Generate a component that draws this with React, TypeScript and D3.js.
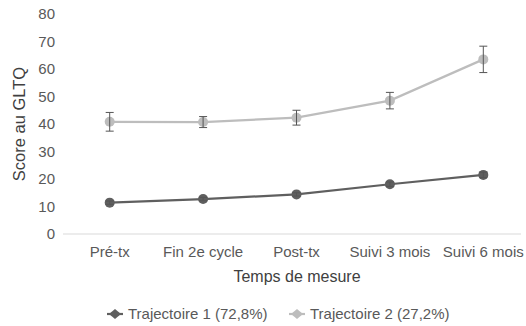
import React, { useRef, useEffect } from 'react';
import * as d3 from 'd3';

// Measurement times
const categories = ['Pré-tx', 'Fin 2e cycle', 'Post-tx', 'Suivi 3 mois', 'Suivi 6 mois'];
// Trajectoire 1 (72,8%)
const traj1Values = [11.4, 12.7, 14.4, 18.1, 21.5];
const traj1Errors = [0.6, 0.6, 0.6, 0.8, 1.0];
// Trajectoire 2 (27,2%)
const traj2Values = [40.8, 40.7, 42.3, 48.5, 63.5];
const traj2Errors = [3.4, 2.0, 2.7, 3.0, 4.8];
const yTicks = [0, 10, 20, 30, 40, 50, 60, 70, 80];
const seriesNames = ['Trajectoire 1 (72,8%)', 'Trajectoire 2 (27,2%)'];

const WIDTH = 526;
const HEIGHT = 326;

const App = () => {
  const svgRef = useRef<SVGSVGElement | null>(null);

  useEffect(() => {
    if (!svgRef.current) return;
    const svg = d3.select(svgRef.current);
    svg.selectAll('*').remove();

    const font = '"Liberation Sans", Arial, sans-serif';

    const x = d3.scaleBand().domain(categories).range([63, 530]);
    const y = d3.scaleLinear().domain([0, 80]).range([234, 14]);
    const cx = (c: string) => (x(c) as number) + x.bandwidth() / 2;

    // x axis line
    svg.append('line')
      .attr('x1', 63).attr('x2', 521)
      .attr('y1', y(0)).attr('y2', y(0))
      .attr('stroke', '#d9d9d9').attr('stroke-width', 1);

    // y tick labels
    svg.selectAll('.ytick')
      .data(yTicks)
      .enter()
      .append('text')
      .attr('x', 55)
      .attr('y', d => y(d))
      .attr('dy', '0.35em')
      .attr('text-anchor', 'end')
      .attr('font-family', font)
      .attr('font-size', '15px')
      .attr('fill', '#595959')
      .text(d => d);

    // x tick labels
    svg.selectAll('.xtick')
      .data(categories)
      .enter()
      .append('text')
      .attr('x', d => cx(d))
      .attr('y', 257)
      .attr('text-anchor', 'middle')
      .attr('font-family', font)
      .attr('font-size', '15px')
      .attr('fill', '#595959')
      .text(d => d);

    // axis titles
    svg.append('text')
      .attr('transform', 'translate(25,124) rotate(-90)')
      .attr('text-anchor', 'middle')
      .attr('font-family', font)
      .attr('font-size', '16.5px')
      .attr('fill', '#404040')
      .text('Score au GLTQ');

    svg.append('text')
      .attr('x', 297)
      .attr('y', 282)
      .attr('text-anchor', 'middle')
      .attr('font-family', font)
      .attr('font-size', '16px')
      .attr('fill', '#404040')
      .text('Temps de mesure');

    const series = [
      { values: traj1Values, errors: traj1Errors, color: '#5f5f5f' },
      { values: traj2Values, errors: traj2Errors, color: '#bdbdbd' },
    ];

    const line = d3.line<number>()
      .x((_, i) => cx(categories[i]))
      .y(d => y(d));

    series.forEach(s => {
      svg.append('path')
        .datum(s.values)
        .attr('d', line)
        .attr('fill', 'none')
        .attr('stroke', s.color)
        .attr('stroke-width', 2.2);

      const g = svg.append('g');
      s.values.forEach((v, i) => {
        const px = cx(categories[i]);
        g.append('circle')
          .attr('cx', px).attr('cy', y(v)).attr('r', 5)
          .attr('fill', s.color);
        const top = y(v + s.errors[i]);
        const bot = y(v - s.errors[i]);
        g.append('line')
          .attr('x1', px).attr('x2', px).attr('y1', top).attr('y2', bot)
          .attr('stroke', '#555').attr('stroke-width', 1);
        [top, bot].forEach(yy => {
          g.append('line')
            .attr('x1', px - 4).attr('x2', px + 4).attr('y1', yy).attr('y2', yy)
            .attr('stroke', '#555').attr('stroke-width', 1);
        });
      });
    });

    // legend
    const legendX = [115, 297];
    seriesNames.forEach((name, i) => {
      const lx = legendX[i];
      const ly = 314;
      svg.append('path')
        .attr('d', `M${lx - 6},${ly} L${lx},${ly - 5} L${lx + 6},${ly} L${lx},${ly + 5} Z`)
        .attr('fill', series[i].color);
      svg.append('line')
        .attr('x1', lx - 8).attr('x2', lx + 8).attr('y1', ly).attr('y2', ly)
        .attr('stroke', series[i].color).attr('stroke-width', 2.2);
      svg.append('text')
        .attr('x', lx + 13)
        .attr('y', ly + 5)
        .attr('font-family', font)
        .attr('font-size', '15px')
        .attr('fill', '#595959')
        .text(name);
    });
  }, []);

  return (
    <svg
      ref={svgRef}
      width={WIDTH}
      height={HEIGHT}
      style={{ position: 'absolute', left: 0, top: 0, background: '#fff' }}
    />
  );
};

export default App;
